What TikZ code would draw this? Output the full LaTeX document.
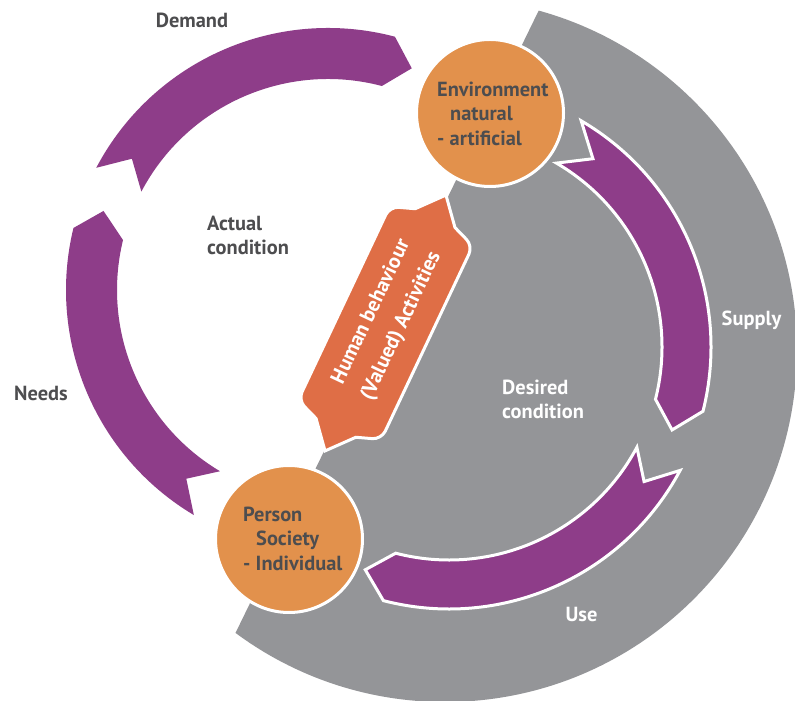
\documentclass[tikz,border=0pt]{standalone}
\usepackage{fontspec}
\setmainfont{PT Sans}
\usetikzlibrary{calc}
\definecolor{purp}{HTML}{8E3D89}
\definecolor{orng}{HTML}{E2914C}
\definecolor{boxor}{HTML}{DF6E46}
\definecolor{grayc}{HTML}{949598}
\definecolor{darktxt}{HTML}{4D4D4F}
\begin{document}
\begin{tikzpicture}[x=1pt,y=1pt,
  lbl/.style={font=\fontsize{20.4}{24.5}\selectfont\bfseries, inner sep=0pt},
  darklbl/.style={lbl, text=darktxt},
  whitelbl/.style={lbl, text=white},
  ringarrow/.style={fill=purp},
  outarrow/.style={fill=purp, draw=white, line width=3pt, line join=miter},
  orb/.style={circle, fill=orng, draw=white, line width=3pt, minimum size=147pt, inner sep=0pt},
  hbbox/.style={fill=boxor, draw=white, line width=3pt}
]
\useasboundingbox (0,0) rectangle (795,701);
\fill[white] (0,0) rectangle (795,701);
\coordinate (C1) at (328,411);
\coordinate (C2) at (449,354);
\coordinate (G) at (445,351);

% gray region
\begin{scope}
  \clip (0,0) rectangle (795,701);
  \clip (572.6,760) -- (197.5,-10) -- (900,-10) -- (900,760) -- cycle;
  \fill[grayc] (G) circle[radius=352];
\end{scope}

% left ring arrows
\begin{scope}[shift={(C1)}]
  % Demand
  \path[ringarrow] (152.2:262) arc[start angle=152.2, end angle=75.2, radius=262]
     -- (69.3:237) -- (75.2:211) arc[start angle=75.2, end angle=152.2, radius=211]
     -- (146.2:236) -- cycle;
  % Needs
  \path[ringarrow] (239.2:262) arc[start angle=239.2, end angle=166.3, radius=262]
     -- (160.6:238) -- (166.3:211) arc[start angle=166.3, end angle=239.2, radius=211]
     -- (233.1:236) -- cycle;
\end{scope}

% right ring arrows
\begin{scope}[shift={(C2)}]
  % Supply
  \path[outarrow] (59.7:262) arc[start angle=59.7, end angle=-14.2, radius=262]
     -- (-20.4:238) -- (-14.2:213) arc[start angle=-14.2, end angle=59.7, radius=213]
     -- (52.6:237) -- cycle;
  % Use
  \path[outarrow] (-28.1:262) arc[start angle=-28.1, end angle=-104.5, radius=262]
     -- (-110.6:238) -- (-104.5:213) arc[start angle=-104.5, end angle=-28.1, radius=213]
     -- (-34.6:237) -- cycle;
\end{scope}

% Human behaviour box
\begin{scope}[shift={(385.5,378)}, rotate=64.7]
  \path[hbbox] (0,46) [rounded corners=9pt] -- (107,46) [sharp corners] -- (116,22) -- (141.5,0) -- (116,-22) [rounded corners=9pt] -- (107,-46) -- (-107,-46) [sharp corners] -- (-116,-22) -- (-141.5,0) -- (-116,22) [rounded corners=9pt] -- (-107,46) -- (0,46) [sharp corners] -- cycle;
  \node[whitelbl, align=center, rotate=64.7, font=\fontsize{20.8}{33}\selectfont\bfseries] (hb) at (4,0.8) {Human behaviour\\(Valued) Activities};
\end{scope}

% circles
\node[orb] (env) at (490,588) {};
\node[orb] (per) at (289,162) {};
\node[darklbl, align=left, anchor=west] (envt) at (437,587.5) {Environment\\\hspace*{13pt}natural\\- artificial};
\node[darklbl, align=left, anchor=west] (pert) at (243,162.5) {Person\\\hspace*{13pt}Society\\- Individual};

% labels
\node[darklbl] (demand) at (192,681) {Demand};
\node[darklbl] (needs) at (41,308) {Needs};
\node[darklbl, align=left, anchor=west] (actual) at (207,465.5) {Actual\\condition};
\node[whitelbl, align=left, anchor=west] (desired) at (502,301.5) {Desired\\condition};
\node[whitelbl] (supply) at (751.5,381) {Supply};
\node[whitelbl] (use) at (581.5,86) {Use};
\end{tikzpicture}
\end{document}
